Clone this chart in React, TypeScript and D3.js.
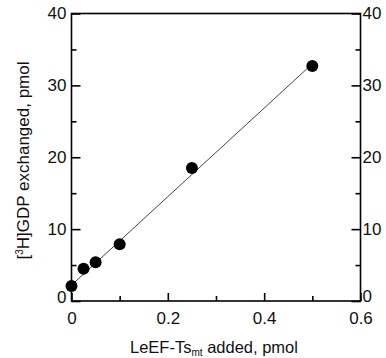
import React, { useEffect, useRef } from "react";
import * as d3 from "d3";

// measured points
const addedPmol = [0, 0.025, 0.05, 0.1, 0.25, 0.5];
const exchangedPmol = [2.1, 4.5, 5.4, 7.9, 18.5, 32.7];
// fitted line endpoints
const fitX = [0, 0.5];
const fitY = [2.2, 33.0];

const xMajor = [0, 0.2, 0.4, 0.6];
const xMinor = [0.1, 0.3, 0.5];
const yMajor = [0, 10, 20, 30, 40];
const yMinor = [5, 15, 25, 35];

const FONT = "'Liberation Sans', Arial, Helvetica, sans-serif";

const App = () => {
  const ref = useRef<SVGSVGElement>(null);

  useEffect(() => {
    const svg = d3.select(ref.current);
    svg.selectAll("*").remove();

    const x = d3.scaleLinear().domain([0, 0.6]).range([71.5, 360.5]);
    const y = d3.scaleLinear().domain([0, 40]).range([301, 13.5]);

    const g = svg.append("g").style("font-family", FONT);

    // frame
    g.append("rect")
      .attr("x", x(0))
      .attr("y", y(40))
      .attr("width", x(0.6) - x(0))
      .attr("height", y(0) - y(40))
      .attr("fill", "none")
      .attr("stroke", "#000")
      .attr("stroke-width", 1.6);

    const fmtX = (d: any) => (d === 0 ? "0" : d3.format(".1f")(d));

    const styleAxis = (sel: any) => {
      sel.select(".domain").remove();
      sel.selectAll("line").attr("stroke", "#000").attr("stroke-width", 1.6);
      sel.selectAll("text")
        .style("font-size", "17px")
        .style("font-family", FONT)
        .attr("fill", "#111");
    };

    // bottom
    g.append("g")
      .attr("transform", `translate(0,${y(0)})`)
      .call(d3.axisBottom(x).tickValues(xMajor).tickFormat(fmtX).tickSize(-8).tickPadding(11))
      .call(styleAxis);
    g.append("g")
      .attr("transform", `translate(0,${y(0)})`)
      .call(d3.axisBottom(x).tickValues(xMinor).tickFormat(() => "").tickSize(-5))
      .call(styleAxis);

    // left
    g.append("g")
      .attr("transform", `translate(${x(0)},0)`)
      .call(d3.axisLeft(y).tickValues(yMajor).tickFormat(d3.format("d")).tickSize(-9).tickPadding(5))
      .call(styleAxis)
      .call((s) => s.selectAll("text").filter((d: any) => d === 0).attr("dy", "0.1em"));
    g.append("g")
      .attr("transform", `translate(${x(0)},0)`)
      .call(d3.axisLeft(y).tickValues(yMinor).tickFormat(() => "").tickSize(-5))
      .call(styleAxis);

    // right
    g.append("g")
      .attr("transform", `translate(${x(0.6)},0)`)
      .call(d3.axisRight(y).tickValues(yMajor).tickFormat(d3.format("d")).tickSize(-9).tickPadding(2))
      .call(styleAxis)
      .call((s) => s.selectAll("text").filter((d: any) => d === 0).attr("dy", "0.05em"));
    g.append("g")
      .attr("transform", `translate(${x(0.6)},0)`)
      .call(d3.axisRight(y).tickValues(yMinor).tickFormat(() => "").tickSize(-5))
      .call(styleAxis);

    // fit line
    const line = d3.line<number>()
      .x((d) => x(d))
      .y((_, i) => y(fitY[i]));
    g.append("path")
      .attr("d", line(fitX))
      .attr("fill", "none")
      .attr("stroke", "#444")
      .attr("stroke-width", 1);

    // points
    g.selectAll("circle.pt")
      .data(addedPmol)
      .enter()
      .append("circle")
      .attr("class", "pt")
      .attr("cx", (d) => x(d))
      .attr("cy", (_, i) => y(exchangedPmol[i]))
      .attr("r", 6)
      .attr("fill", "#000");

    // x title
    const xt = g.append("text")
      .attr("x", 214)
      .attr("y", 353)
      .attr("text-anchor", "middle")
      .style("font-size", "16.5px")
      .attr("fill", "#111");
    xt.append("tspan").text("LeEF-Ts");
    xt.append("tspan").attr("dy", 3).style("font-size", "10px").text("mt");
    xt.append("tspan").attr("dy", -3).text(" added, pmol");

    // y title
    const yt = g.append("text")
      .attr("transform", `translate(29,160.5) rotate(-90)`)
      .attr("text-anchor", "middle")
      .style("font-size", "17px")
      .attr("fill", "#111");
    yt.append("tspan").text("[");
    yt.append("tspan").attr("dy", -6).style("font-size", "10px").text("3");
    yt.append("tspan").attr("dy", 6).text("H]GDP exchanged, pmol");
  }, []);

  return (
    <svg
      ref={ref}
      width={386}
      height={358}
      style={{ position: "absolute", left: 0, top: 0, background: "#fff" }}
    />
  );
};

export default App;
